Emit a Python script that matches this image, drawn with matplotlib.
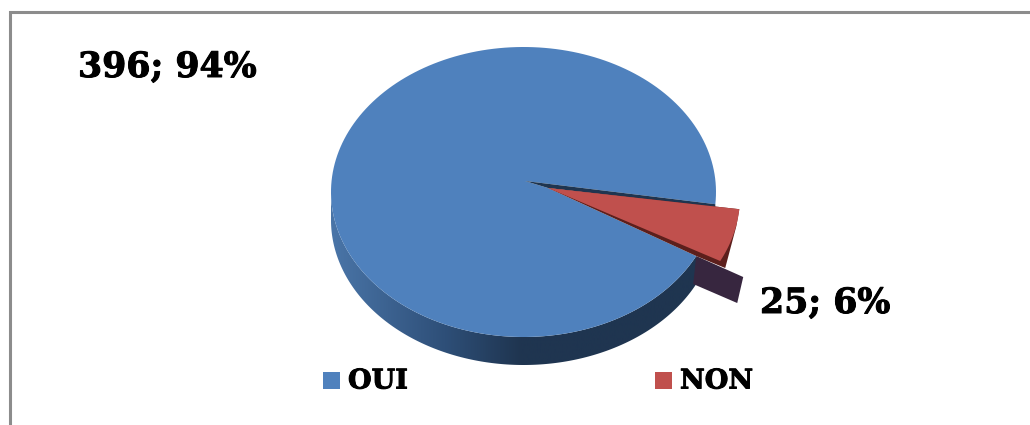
import numpy as np
import matplotlib
matplotlib.use("Agg")
import matplotlib.pyplot as plt
import matplotlib.patheffects as pe
from matplotlib.colors import LinearSegmentedColormap
from matplotlib.patches import Polygon, Rectangle

labels = ["OUI", "NON"]
values = [396, 25]
percents = [94, 6]

BLUE = "#4f81bd"
RED = "#c0504d"
DARK_RED = "#5c1f1c"
DARK_BLUE = "#1f3550"
PURPLE = "#37263f"

# pie shape, in pixels
cx, cy = 523.5, 192
rx, ry = 192.5, 145
depth = 28
apex = np.array([525, 181])
explode = np.array([24, 5])
start = -26.2


def arc(t1, t2, n=200):
    t = np.radians(np.linspace(t1, t2, n))
    return np.column_stack([cx + rx * np.cos(t), cy - ry * np.sin(t)])


fig = plt.figure(figsize=(10.3, 4.25), dpi=100)
ax = fig.add_axes([0, 0, 1, 1])
ax.axis("off")

# chart frame
ax.plot([9.5, 9.5, 1030], [425, 11.5, 11.5], color="#8c8c8c", lw=2.2, solid_joinstyle="miter")

sweep = 360 * values[1] / sum(values)
t_low, t_high = start, start + sweep
outer = arc(t_high, t_low + 360)
p_low, p_high = arc(t_low, t_high, 2)
red_arc = arc(t_low, t_high, 40) + explode
red_apex = apex - [1, 0] + explode + [0, 2]

# side band of the big slice, with a shaded left end
band_edge = arc(180, 360 + t_low)
band = np.vstack([band_edge, (band_edge + [0, depth])[::-1]])
side_cmap = LinearSegmentedColormap.from_list(
    "side", [(0, "#4a75a8"), (0.3, "#2e4f78"), (0.5, DARK_BLUE), (1, DARK_BLUE)])
im = ax.imshow(np.linspace(0, 1, 256)[None, :], extent=(331, 710, 425, 0), cmap=side_cmap,
               aspect="auto", zorder=1)
im.set_clip_path(Polygon(band, transform=ax.transData))

# inner wall behind the pulled-out slice
wall = [p_low, red_arc[0] + [23, 16], red_arc[0] + [17, 42], p_low + [-3, 28]]
ax.add_patch(Polygon(wall, closed=True, facecolor=PURPLE, edgecolor="none", zorder=2))

# big slice top, its lower cut runs under the small slice
ax.add_patch(Polygon(np.vstack([apex, red_apex, outer[::-1]]), closed=True,
                     facecolor=BLUE, edgecolor="none", zorder=3))

# thin dark cut edge along the top of the gap
ax.add_patch(Polygon([apex, p_high, p_high + [0, 3], red_apex], closed=True,
                     facecolor=DARK_BLUE, edgecolor="none", zorder=4))

# small slice
shade = np.vstack([red_apex, p_low, red_arc[0] + [5, 7], red_arc[-1] + [-3, 17], red_arc[-1]])
ax.add_patch(Polygon(shade, closed=True, facecolor=DARK_RED, edgecolor="none", zorder=4))
ax.add_patch(Polygon(np.vstack([red_apex, red_arc]), closed=True,
                     facecolor=RED, edgecolor="none", zorder=5))

# value labels
font = dict(family="DejaVu Serif", weight="bold", color="black", va="center", ha="left",
            path_effects=[pe.withStroke(linewidth=0.7, foreground="black")])
ax.text(78, 67, f"{values[0]}; {percents[0]}%", fontsize=25, **font)
ax.text(760, 303, f"{values[1]}; {percents[1]}%", fontsize=25, **font)

# legend
for x, color, name in zip([323, 655], [BLUE, RED], labels):
    ax.add_patch(Rectangle((x, 372), 17, 17, facecolor=color, edgecolor="none"))
    ax.text(x + 25, 381, name, fontsize=19.5, **font)

ax.set_xlim(0, 1030)
ax.set_ylim(425, 0)
fig.savefig("out.png", dpi=100)
